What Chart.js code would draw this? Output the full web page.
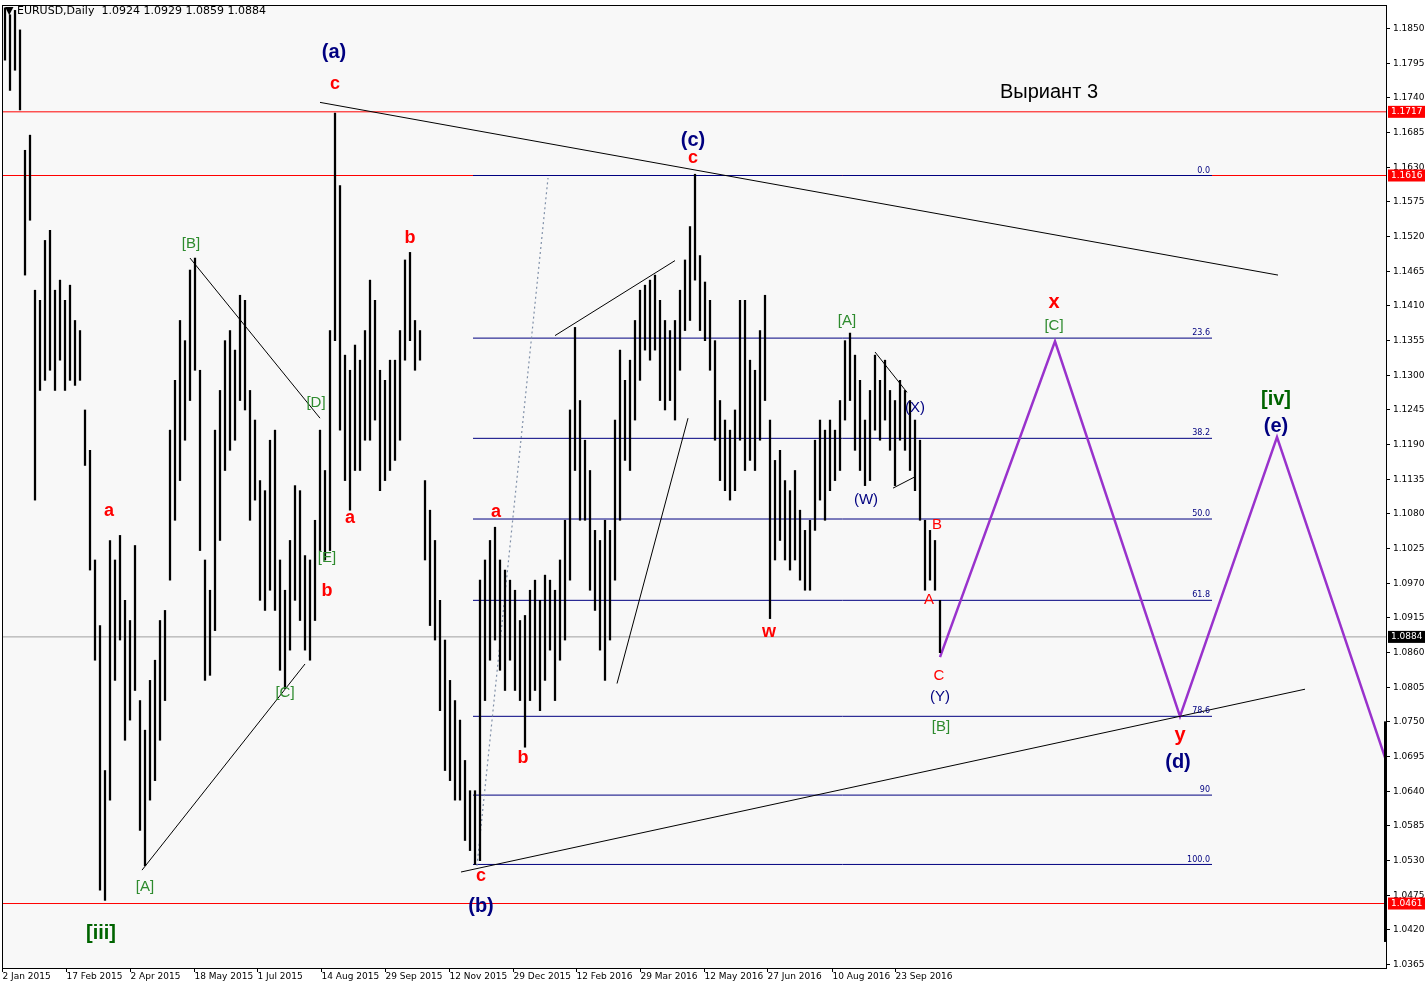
<!DOCTYPE html>
<html><head><meta charset="utf-8">
<script src="https://cdn.jsdelivr.net/npm/chart.js@4/dist/chart.umd.min.js"></script>
<style>html,body{margin:0;padding:0;background:#fff}canvas{display:block}</style>
</head><body>
<canvas id="c" width="1426" height="988"></canvas>
<script>
const highs=[1.1882,1.1871,1.1878,1.1847,1.1656,1.1680,1.1434,1.1418,1.1513,1.1529,1.1434,1.1450,1.1418,1.1442,1.1386,1.1370,1.1244,1.1180,1.1006,1.0902,1.0672,1.1037,1.1006,1.1045,1.0942,1.0910,1.1029,1.0783,1.0736,1.0815,1.0847,1.0910,1.0926,1.1212,1.1291,1.1386,1.1354,1.1466,1.1485,1.1307,1.1006,1.0958,1.1212,1.1275,1.1354,1.1370,1.1339,1.1426,1.1418,1.1275,1.1228,1.1132,1.1116,1.1196,1.1212,1.1006,1.0958,1.1037,1.1124,1.1116,1.1013,1.1006,1.1069,1.1212,1.1148,1.1370,1.1715,1.1600,1.1331,1.1307,1.1347,1.1323,1.1370,1.1450,1.1418,1.1307,1.1291,1.1323,1.1323,1.1370,1.1482,1.1494,1.1386,1.1370,1.1132,1.1085,1.1037,1.0942,1.0879,1.0815,1.0783,1.0752,1.0688,1.0640,1.0640,1.0974,1.1006,1.1037,1.1058,1.1006,1.0990,1.0974,1.0958,1.0910,1.0918,1.0958,1.0974,1.0942,1.0982,1.0974,1.0958,1.1006,1.1069,1.1244,1.1375,1.1259,1.1196,1.1148,1.1053,1.1037,1.1069,1.1053,1.1228,1.1339,1.1291,1.1323,1.1386,1.1434,1.1442,1.1450,1.1458,1.1418,1.1386,1.1370,1.1386,1.1434,1.1482,1.1535,1.1618,1.1489,1.1447,1.1418,1.1354,1.1259,1.1228,1.1212,1.1244,1.1418,1.1418,1.1323,1.1307,1.1370,1.1426,1.1228,1.1164,1.1180,1.1132,1.1116,1.1148,1.1085,1.1053,1.1069,1.1196,1.1228,1.1212,1.1228,1.1212,1.1259,1.1354,1.1366,1.1331,1.1291,1.1228,1.1275,1.1331,1.1291,1.1323,1.1275,1.1259,1.1291,1.1275,1.1259,1.1228,1.1196,1.1069,1.1053,1.1037,1.0942];
const lows=[1.1799,1.1751,1.1783,1.1720,1.1458,1.1545,1.1101,1.1275,1.1291,1.1307,1.1275,1.1323,1.1275,1.1291,1.1283,1.1291,1.1156,1.0990,1.0847,1.0482,1.0466,1.0625,1.0815,1.0879,1.0720,1.0752,1.0799,1.0577,1.0521,1.0625,1.0656,1.0720,1.0783,1.0974,1.1069,1.1132,1.1196,1.1259,1.1307,1.1021,1.0815,1.0823,1.0894,1.1037,1.1148,1.1180,1.1196,1.1259,1.1244,1.1069,1.1101,1.0942,1.0926,1.0958,1.0926,1.0831,1.0802,1.0863,1.0942,1.0910,1.0863,1.0847,1.0910,1.1021,1.1006,1.1021,1.1354,1.1212,1.1132,1.1085,1.1148,1.1148,1.1196,1.1196,1.1228,1.1116,1.1132,1.1148,1.1164,1.1196,1.1323,1.1354,1.1307,1.1323,1.1006,1.0902,1.0879,1.0767,1.0672,1.0656,1.0625,1.0625,1.0561,1.0545,1.0523,1.0529,1.0783,1.0847,1.0879,1.0831,1.0799,1.0847,1.0799,1.0783,1.0709,1.0783,1.0799,1.0767,1.0815,1.0863,1.0783,1.0847,1.0879,1.0974,1.1148,1.1069,1.1069,1.0958,1.0926,1.0863,1.0815,1.0879,1.0974,1.1069,1.1164,1.1148,1.1228,1.1291,1.1339,1.1323,1.1339,1.1259,1.1244,1.1259,1.1228,1.1307,1.1370,1.1386,1.1450,1.1370,1.1354,1.1307,1.1196,1.1132,1.1116,1.1101,1.1116,1.1196,1.1148,1.1164,1.1148,1.1196,1.1259,1.0913,1.1006,1.1037,1.1006,1.0990,1.1006,1.0974,1.0958,1.0958,1.1053,1.1101,1.1069,1.1116,1.1132,1.1148,1.1228,1.1259,1.1180,1.1148,1.1124,1.1132,1.1212,1.1196,1.1228,1.1180,1.1124,1.1196,1.1180,1.1148,1.1116,1.1069,1.0958,1.0974,1.0958,1.0859];
const dateLabels=["2 Jan 2015","17 Feb 2015","2 Apr 2015","18 May 2015","1 Jul 2015","14 Aug 2015","29 Sep 2015","12 Nov 2015","29 Dec 2015","12 Feb 2016","29 Mar 2016","12 May 2016","27 Jun 2016","10 Aug 2016","23 Sep 2016"];
const dateIdx=[-0.6,12.2,24.9,37.7,50.4,63.2,76,88.7,101.5,114.2,127,139.8,152.5,165.3,178];
const fibLevels=[1.1616,1.1358,1.1199,1.1071,1.0942,1.0758,1.0633,1.0523];
const fibNames=["0.0","23.6","38.2","50.0","61.8","78.6","90","100.0"];
const fibRange=[93.6,241.4];
const purpleX=[187,210,235,254.4,276.2];
const purpleY=[1.0852,1.1353,1.0758,1.1201,1.0688];
const trendLines=[
 {x:[63,254.6],y:[1.1732,1.1458]},
 {x:[37,63],y:[1.1485,1.1231]},
 {x:[27.4,60],y:[1.0514,1.0841]},
 {x:[110,134],y:[1.1362,1.1481]},
 {x:[122.4,136.6],y:[1.0810,1.1231]},
 {x:[91.2,260],y:[1.0511,1.0801]},
 {x:[174,180.4],y:[1.1336,1.1272]},
 {x:[177.6,182],y:[1.1120,1.1138]}
];
const dotted={x:[94.4,108.6],y:[1.0521,1.1612]};
const redLevels=[1.1717,1.1616,1.0461];
const closeLevel=1.0884;
const tickStart=1.0365, tickStep=0.0055, tickCount=28;
const annotations=[
 ["(a)",65.8,1.1811,"#000080",20,"bold"],["c",66,1.1761,"#ff0000",18,"bold"],
 ["(c)",137.6,1.1671,"#000080",20,"bold"],["c",137.6,1.1643,"#ff0000",18,"bold"],
 ["Выриант 3",208.8,1.1748,"#000000",20,""],
 ["[B]",37.2,1.1507,"#2e8b2e",15,""],["b",81,1.1517,"#ff0000",18,"bold"],
 ["[D]",62.2,1.1256,"#2e8b2e",15,""],["a",20.8,1.1083,"#ff0000",18,"bold"],
 ["a",69,1.1072,"#ff0000",18,"bold"],["[E]",64.4,1.1009,"#2e8b2e",15,""],
 ["b",64.4,1.0957,"#ff0000",18,"bold"],["[C]",56,1.0795,"#2e8b2e",15,""],
 ["[A]",28,1.0488,"#2e8b2e",15,""],["[iii]",19.2,1.0414,"#006400",20,"bold"],
 ["a",98.2,1.1082,"#ff0000",18,"bold"],["b",103.6,1.0692,"#ff0000",18,"bold"],
 ["c",95.2,1.0504,"#ff0000",18,"bold"],["(b)",95.2,1.0457,"#000080",20,"bold"],
 ["w",152.8,1.0892,"#ff0000",18,"bold"],["[A]",168.4,1.1385,"#2e8b2e",15,""],
 ["(W)",172.2,1.1102,"#000080",15,""],["(X)",182,1.1247,"#000080",15,""],
 ["B",186.4,1.1061,"#ff0000",15,""],["A",184.8,1.0942,"#ff0000",15,""],
 ["C",186.8,1.0822,"#ff0000",15,""],["(Y)",187,1.0789,"#000080",15,""],
 ["[B]",187.2,1.0741,"#2e8b2e",15,""],["x",209.8,1.1414,"#ff0000",20,"bold"],
 ["[C]",209.8,1.1377,"#2e8b2e",15,""],["y",235,1.0728,"#ff0000",20,"bold"],
 ["(d)",234.6,1.0684,"#000080",20,"bold"],["[iv]",254.2,1.1260,"#006400",20,"bold"],
 ["(e)",254.2,1.1218,"#000080",20,"bold"]
];
const title="EURUSD,Daily  1.0924 1.0929 1.0859 1.0884";

const XMIN=-0.6, XMAX=276.2, YMIN=1.03587, YMAX=1.18865;
const datasets=[];
datasets.push({type:'bar',data:highs.map((h,i)=>({x:i,y:[lows[i],h]})),backgroundColor:'#000',barThickness:1.6,order:1});
const seg=(xs,ys,color,w,dash,ord)=>datasets.push({type:'line',data:xs.map((x,i)=>({x,y:ys[i]})),borderColor:color,borderWidth:w,borderDash:dash||[],pointRadius:0,fill:false,tension:0,order:ord||2});
redLevels.forEach(v=>seg([XMIN,XMAX],[v,v],'#ff0000',1,null,5));
seg([XMIN,XMAX],[closeLevel,closeLevel],'#a0a0a0',1,null,5);
fibLevels.forEach(v=>seg(fibRange,[v,v],'#000080',1,null,4));
trendLines.forEach(t=>seg(t.x,t.y,'#000',1));
seg(dotted.x,dotted.y,'#8090a8',1.2,[2,3]);
seg(purpleX,purpleY,'#9932cc',2.5,null,0);

const deco={id:'deco',
beforeDraw(ch){const c=ch.ctx;c.save();c.fillStyle='#fff';c.fillRect(0,0,1426,988);const a=ch.chartArea;c.fillStyle='#f8f8f8';c.fillRect(a.left,a.top,a.right-a.left,a.bottom-a.top);c.restore();},
afterDraw(ch){const c=ch.ctx,X=ch.scales.x,Y=ch.scales.y,a=ch.chartArea;c.save();
 c.strokeStyle='#000';c.lineWidth=1;c.strokeRect(a.left+0.5,a.top+0.5,a.right-a.left,a.bottom-a.top);
 c.font='9px "DejaVu Sans"';c.fillStyle='#000';c.textBaseline='middle';c.textAlign='left';
 for(let k=0;k<tickCount;k++){const v=tickStart+k*tickStep,y=Math.round(Y.getPixelForValue(v))+0.5;c.beginPath();c.moveTo(a.right,y);c.lineTo(a.right+4,y);c.stroke();c.fillText(v.toFixed(4),a.right+7,y);}
 const box=(v,bg)=>{const y=Y.getPixelForValue(v);c.fillStyle=bg;c.fillRect(a.right+2,y-6,37,12);c.fillStyle='#fff';c.fillText(v.toFixed(4),a.right+5,y);};
 redLevels.forEach(v=>box(v,'#ff0000'));box(closeLevel,'#000');
 c.fillStyle='#000';c.fillRect(a.right-2,Y.getPixelForValue(1.0750),2,Y.getPixelForValue(1.0400)-Y.getPixelForValue(1.0750));
 c.textBaseline='top';
 dateIdx.forEach((d,i)=>{const x=Math.round(X.getPixelForValue(d))+0.5;c.beginPath();c.moveTo(x,a.bottom);c.lineTo(x,a.bottom+4);c.stroke();c.fillText(dateLabels[i],x,a.bottom+4);});
 c.font='8px "DejaVu Sans"';c.textAlign='right';c.textBaseline='bottom';c.fillStyle='#000080';
 fibLevels.forEach((v,i)=>c.fillText(fibNames[i],X.getPixelForValue(fibRange[1])-2,Y.getPixelForValue(v)-1));
 c.textAlign='left';c.textBaseline='middle';c.fillStyle='#000';c.font='11px "DejaVu Sans"';c.fillText('▼ '+title,5,11);
 c.textAlign='center';
 annotations.forEach(t=>{c.font=(t[5]?t[5]+' ':'')+t[4]+'px "Liberation Sans"';c.fillStyle=t[3];c.fillText(t[0],X.getPixelForValue(t[1]),Y.getPixelForValue(t[2]));});
 c.restore();}};

new Chart(document.getElementById('c'),{type:'bar',data:{datasets},plugins:[deco],
options:{responsive:false,animation:false,layout:{padding:{left:2,right:40,top:5,bottom:20}},
plugins:{legend:{display:false},tooltip:{enabled:false}},
scales:{x:{type:'linear',min:XMIN,max:XMAX,display:false,offset:false},y:{min:YMIN,max:YMAX,display:false}}}});
</script></body></html>
